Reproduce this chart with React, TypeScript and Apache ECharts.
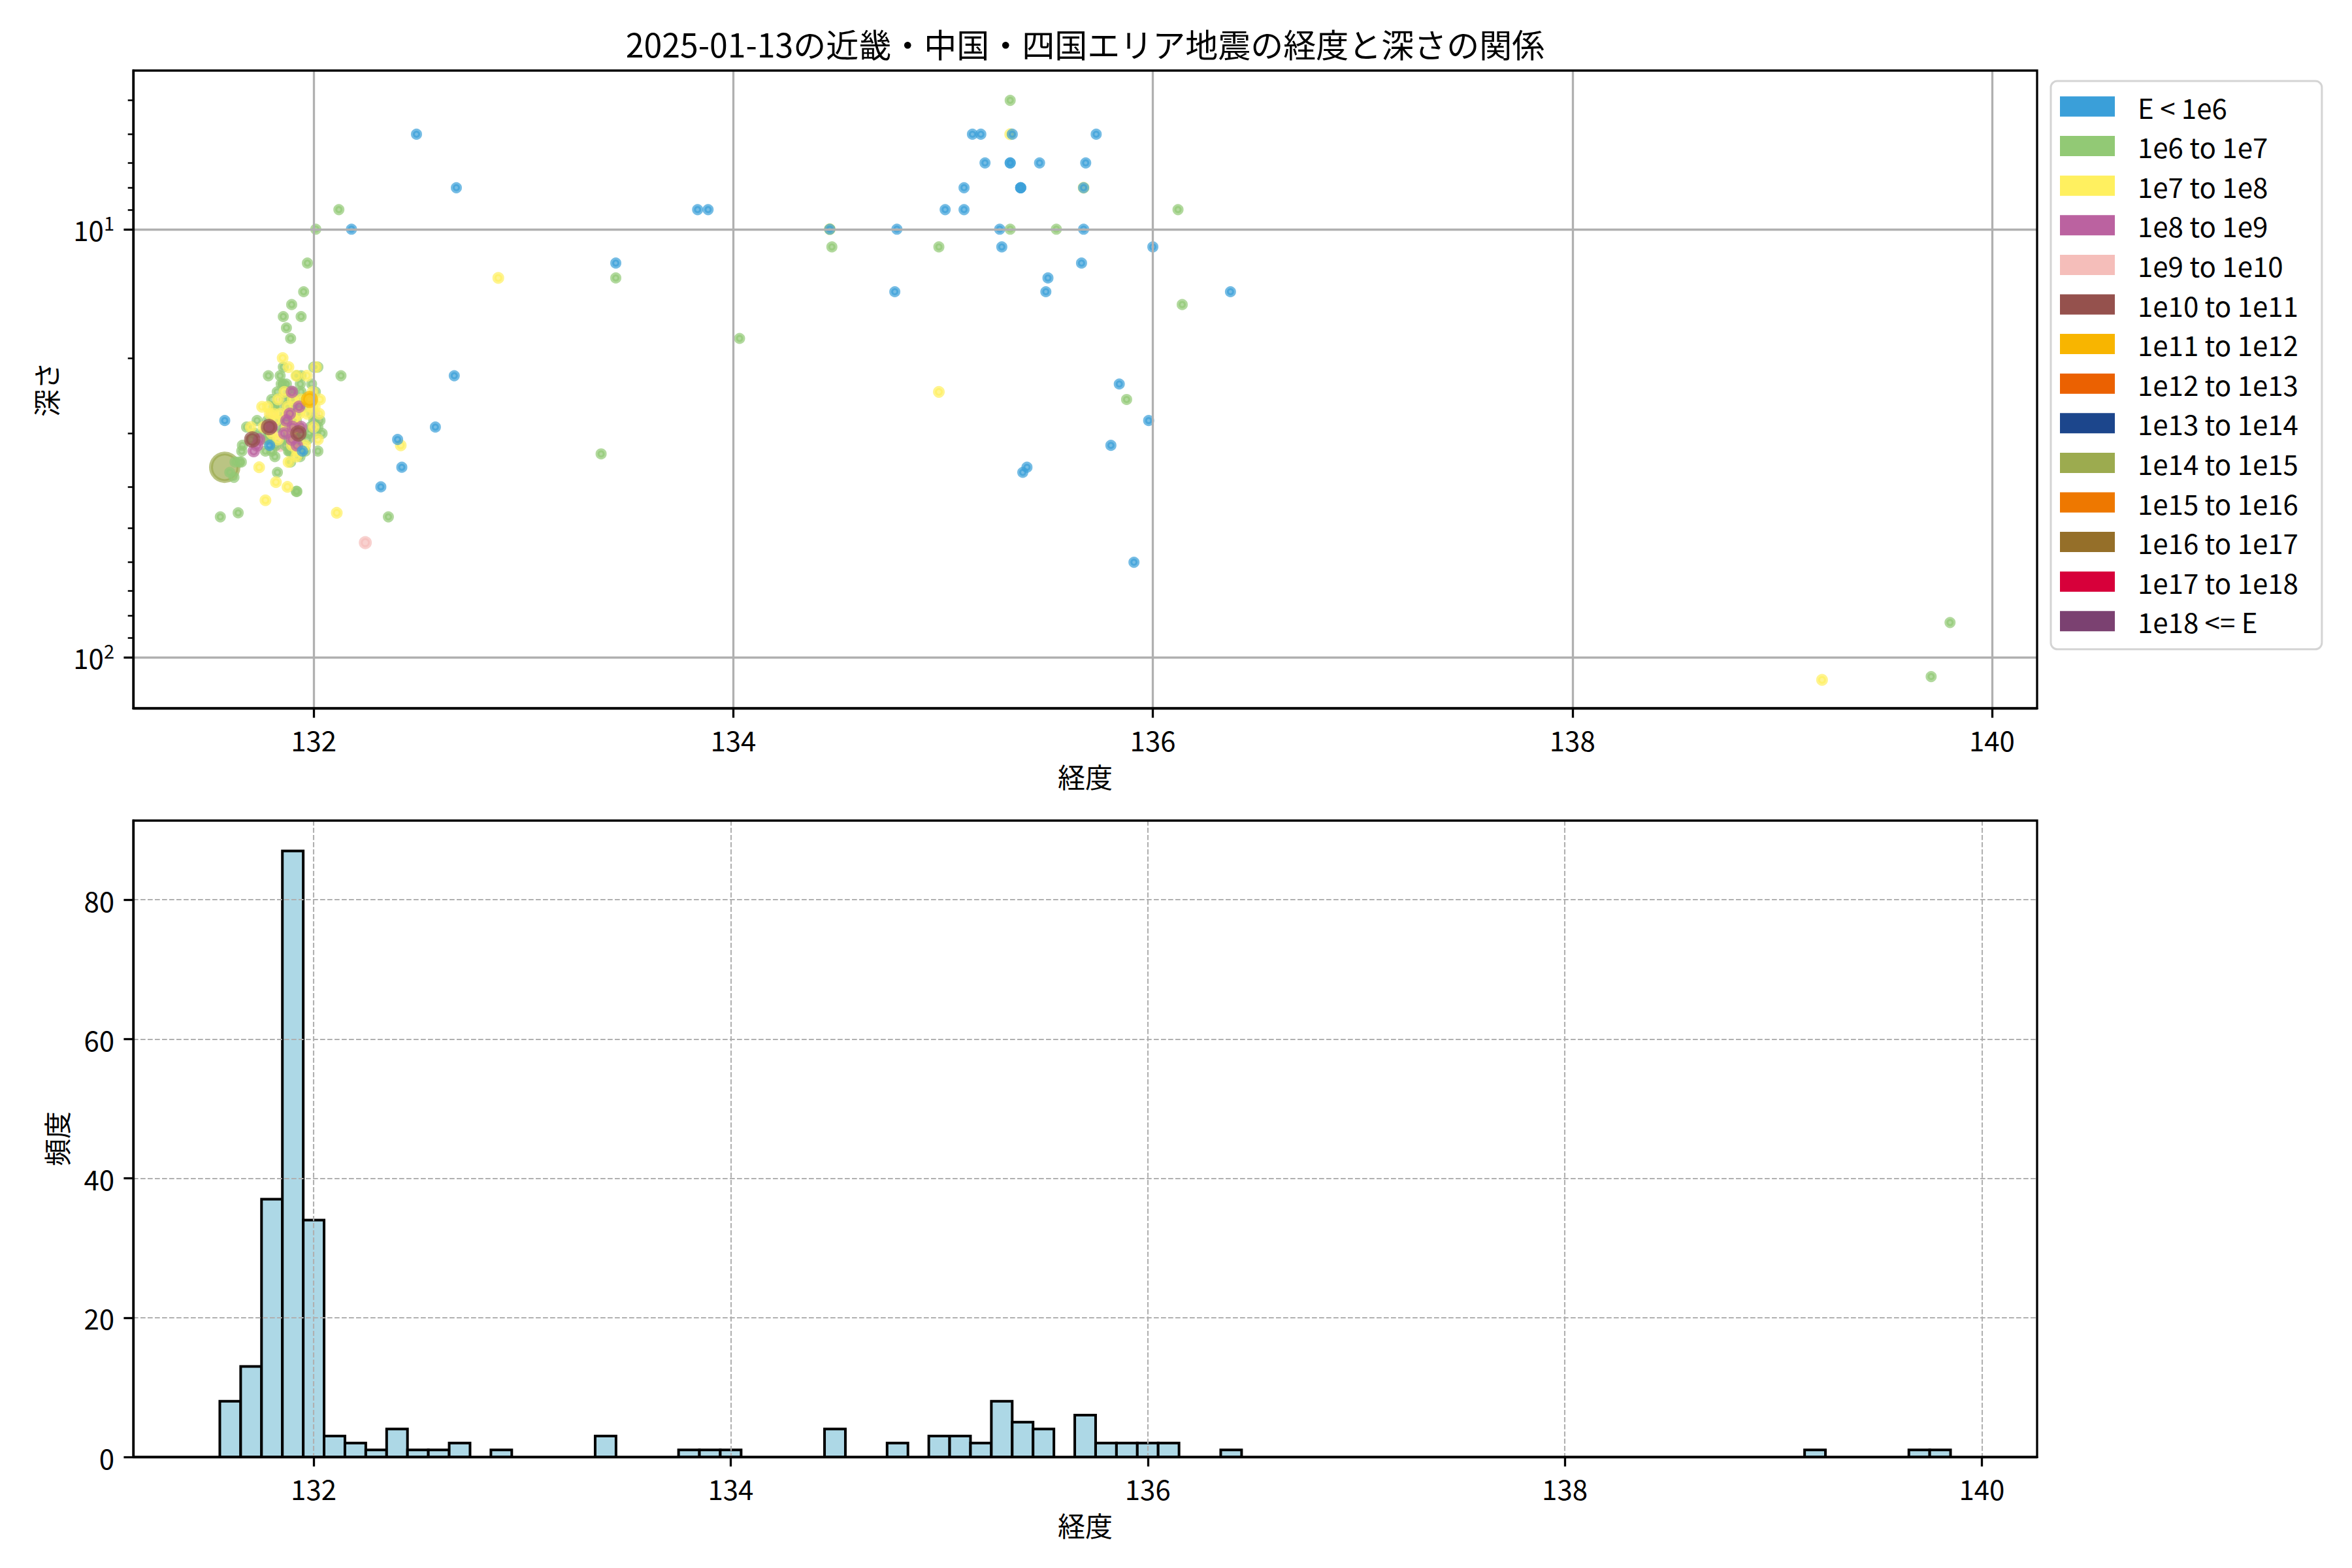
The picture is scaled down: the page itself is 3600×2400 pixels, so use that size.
import React, { useEffect, useRef } from 'react';
import * as echarts from 'echarts';

const FONT = '"Noto Sans CJK JP", "Noto Sans", sans-serif';

const TITLE = '2025-01-13の近畿・中国・四国エリア地震の経度と深さの関係';
const X_NAME = '経度';
const DEPTH_NAME = '深さ';
const COUNT_NAME = '頻度';

const categoryNames = [
  'E < 1e6', '1e6 to 1e7', '1e7 to 1e8', '1e8 to 1e9', '1e9 to 1e10', '1e10 to 1e11',
  '1e11 to 1e12', '1e12 to 1e13', '1e13 to 1e14', '1e14 to 1e15', '1e15 to 1e16',
  '1e16 to 1e17', '1e17 to 1e18', '1e18 <= E',
];
const categoryColors = [
  '#3a9fd9', '#92c975', '#fff05f', '#bb62a0', '#f5beba', '#95514d',
  '#f8b500', '#eb6101', '#1c468c', '#9cab4f', '#ee7800', '#956f29', '#d7003a', '#7b4171',
];
const categorySizes = [11, 11, 12, 13, 14, 19, 20, 22, 24, 42, 44, 46, 48, 50];
const categoryZ = [2.5, 2, 2, 2, 1.5, 2, 2, 2, 2, 1, 2, 2, 2, 2];

// [longitude, depth]
const pointsLt1e6 = [
  [135.14, 6], [135.18, 6], [135.33, 6], [135.73, 6],
  [135.20, 7], [135.32, 7], [135.32, 7], [135.46, 7], [135.68, 7],
  [135.10, 8], [135.37, 8], [135.37, 8], [135.37, 8], [135.67, 8],
  [133.83, 9], [133.88, 9], [135.01, 9], [135.10, 9],
  [134.46, 10], [134.78, 10], [135.27, 10], [135.67, 10],
  [135.28, 11], [136.0, 11], [133.44, 12], [135.66, 12], [135.50, 13],
  [134.77, 14], [135.49, 14], [136.37, 14],
  [135.84, 23], [135.98, 28], [135.80, 32], [135.40, 36], [135.38, 37], [135.91, 60],
  [132.49, 6], [132.68, 8], [132.18, 10], [132.67, 22], [132.58, 29], [132.40, 31],
  [132.42, 36], [132.32, 40], [131.576, 28], [131.79, 32], [131.946, 33],
];
const points1e6 = [
  [135.32, 5], [136.12, 9], [135.32, 10], [135.54, 10], [134.47, 11], [134.98, 11],
  [133.44, 13], [136.14, 15], [134.03, 18], [135.875, 25], [133.37, 33.5], [134.46, 10],
  [132.12, 9], [132.13, 22], [132.356, 47], [139.71, 111], [139.80, 83],
  [131.555, 47], [131.625, 35], [131.62, 38], [131.645, 35], [131.64, 46], [131.60, 37],
  [131.66, 32], [131.657, 33], [131.68, 29], [131.73, 28], [131.655, 35], [131.72, 30], [131.70, 31],
  [131.784, 22], [131.81, 26], [131.78, 28], [131.79, 31], [131.77, 33], [131.815, 34],
  [131.827, 37], [131.826, 24], [131.84, 22], [131.76, 30], [131.80, 25], [131.83, 29],
  [131.82, 32], [131.845, 23], [131.80, 33], [131.79, 29], [131.82, 26], [131.77, 31], [131.84, 28],
  [131.895, 15], [131.855, 16], [131.94, 16], [131.87, 17], [131.89, 18], [131.855, 21],
  [131.92, 22], [131.94, 22], [131.855, 23], [131.87, 23], [131.936, 23], [131.896, 24],
  [131.90, 24], [131.92, 25], [131.89, 25], [131.875, 26], [131.93, 26], [131.86, 27],
  [131.917, 28], [131.90, 28], [131.896, 29], [131.91, 29], [131.94, 30], [131.88, 30],
  [131.92, 31], [131.865, 32], [131.886, 33], [131.90, 33], [131.917, 41], [131.92, 41],
  [131.875, 29], [131.93, 32], [131.88, 28], [131.91, 27], [131.87, 31], [131.94, 24],
  [131.86, 25], [131.90, 30], [131.935, 34], [131.89, 35],
  [131.88, 24], [131.91, 26], [131.92, 27], [131.87, 26], [131.89, 27], [131.93, 29],
  [131.90, 32], [131.88, 33], [131.91, 31], [131.86, 28], [131.89, 28], [131.91, 30],
  [131.97, 12], [131.952, 14], [132.01, 10], [132.0, 21], [132.008, 24], [131.984, 29],
  [131.98, 30], [132.02, 33], [132.03, 28], [131.96, 26], [131.99, 27], [132.04, 30],
  [131.97, 31], [132.0, 28], [132.02, 21], [131.99, 23], [132.01, 30], [131.96, 33],
  [132.02, 29],
];
const points1e7 = [
  [132.11, 46], [132.415, 32], [132.88, 13], [134.46, 10], [134.98, 24], [135.32, 6],
  [135.67, 8], [139.19, 113],
  [131.70, 29], [131.74, 36],
  [131.754, 26], [131.79, 27], [131.81, 27], [131.82, 28], [131.82, 39], [131.77, 43],
  [131.80, 30], [131.78, 26], [131.84, 27], [131.83, 31], [131.83, 25], [131.76, 29],
  [131.852, 20], [131.88, 21], [131.917, 22], [131.917, 34], [131.875, 40], [131.896, 32],
  [131.875, 26], [131.87, 29], [131.91, 28], [131.86, 24], [131.93, 27], [131.89, 30],
  [131.94, 25], [131.90, 31], [131.92, 33], [131.88, 35], [131.90, 25], [131.92, 29], [131.88, 27],
  [132.01, 21], [131.967, 22], [131.995, 24], [131.98, 25], [132.005, 26], [131.97, 27],
  [132.026, 27], [132.0, 29], [132.02, 31], [131.96, 32], [131.99, 26], [132.03, 25],
];
const points1e8 = [
  [131.74, 31], [131.714, 33], [131.73, 32], [131.79, 29], [131.80, 29],
  [131.886, 27], [131.93, 26], [131.896, 31], [131.896, 24], [131.90, 29], [131.87, 28],
  [131.94, 29], [131.92, 32], [131.86, 30],
];
const points1e9 = [
  [132.246, 54], [131.80, 27], [131.83, 30], [131.84, 32],
  [131.852, 25], [131.865, 29], [131.875, 31], [131.90, 26],
  [132.0, 27], [132.01, 28],
];
const points1e10 = [[131.707, 31], [131.787, 29], [131.927, 30]];
const points1e11 = [[131.98, 25]];
const points1e12 = [];
const points1e13 = [];
const points1e14 = [[131.576, 36]];
const points1e15 = [];
const points1e16 = [];
const points1e17 = [];
const points1e18 = [];

const scatterData = [
  pointsLt1e6, points1e6, points1e7, points1e8, points1e9, points1e10, points1e11,
  points1e12, points1e13, points1e14, points1e15, points1e16, points1e17, points1e18,
];

// Histogram of longitude (bin edges start at HIST_BIN_START, width HIST_BIN_WIDTH)
const HIST_BIN_START = 131.55;
const HIST_BIN_WIDTH = 0.1;
const histCounts = [
  8, 13, 37, 87, 34, 3, 2, 1, 4, 1, 1, 2, 0, 1, 0, 0, 0, 0, 3, 0,
  0, 0, 1, 1, 1, 0, 0, 0, 0, 4, 0, 0, 2, 0, 3, 3, 2, 8, 5, 4,
  0, 6, 2, 2, 2, 2, 0, 0, 1, 0, 0, 0, 0, 0, 0, 0, 0, 0, 0, 0,
  0, 0, 0, 0, 0, 0, 0, 0, 0, 0, 0, 0, 0, 0, 0, 0, 1, 0, 0, 0,
  0, 1, 1,
];

const lonTicks = [132, 134, 136, 138, 140];
const depthTicks = [10, 100];
const depthMinorTicks = [5, 6, 7, 8, 9, 20, 30, 40, 50, 60, 70, 80, 90];
const countTicks = [0, 20, 40, 60, 80];

const SCATTER_X = [131.14, 140.215];
const SCATTER_Y = [4.26, 131.6];
const HIST_X = [131.135, 140.265];
const HIST_Y = [0, 91.35];

const G1 = { left: 204, top: 108, width: 2914, height: 976 };
const G2 = { left: 204, top: 1256, width: 2914, height: 974 };

export default function App() {
  const ref = useRef<HTMLDivElement>(null);

  useEffect(() => {
    document.body.style.margin = '0';
    if (!ref.current) return;
    const chart = echarts.init(ref.current, null, { renderer: 'svg' });

    const tickLine = { color: '#000', width: 3.3 };
    const labelStyle = { fontSize: 42, color: '#000', fontFamily: FONT };
    const nameStyle = { fontSize: 42, color: '#000', fontFamily: FONT };
    const solidGrid = { show: true, showMinLine: true, showMaxLine: true, lineStyle: { color: '#b0b0b0', width: 3.3 } };
    const dashGrid = {
      show: true, showMinLine: true, showMaxLine: true,
      lineStyle: { color: '#b0b0b0', width: 2.1, type: [7.7, 3.3] },
    };

    const histBars = histCounts
      .map((c, i) => [HIST_BIN_START + i * HIST_BIN_WIDTH, HIST_BIN_START + (i + 1) * HIST_BIN_WIDTH, c])
      .filter((d) => d[2] > 0);

    const scatterSeries = categoryNames.map((name, i) => ({
      name,
      type: 'scatter',
      xAxisIndex: 0,
      yAxisIndex: 0,
      data: scatterData[i],
      symbol: 'circle',
      symbolSize: categorySizes[i],
      z: categoryZ[i],
      itemStyle: {
        color: categoryColors[i],
        borderColor: categoryColors[i],
        borderWidth: 6,
        opacity: 0.7,
      },
      emphasis: { disabled: true },
    }));

    const option: any = {
      animation: false,
      backgroundColor: '#ffffff',
      textStyle: { fontFamily: FONT },
      graphic: [
        {
          type: 'text',
          x: G1.left + G1.width / 2,
          y: 66,
          style: {
            text: TITLE,
            fontSize: 50,
            fontFamily: FONT,
            fill: '#000',
            align: 'center',
            verticalAlign: 'middle',
          },
        },
      ],
      legend: {
        orient: 'vertical',
        left: 3139,
        top: 124,
        data: categoryNames,
        icon: 'rect',
        itemWidth: 84,
        itemHeight: 31,
        itemGap: 18.6,
        padding: [18, 36, 22, 14],
        borderColor: '#d4d4d4',
        borderWidth: 3,
        borderRadius: 10,
        backgroundColor: 'rgba(255,255,255,0.8)',
        selectedMode: false,
        itemStyle: { opacity: 1, borderWidth: 0 },
        textStyle: { fontSize: 42, color: '#000', fontFamily: FONT, lineHeight: 31, padding: [0, 0, 0, 30] },
      },
      grid: [
        { ...G1, show: true, borderColor: '#000', borderWidth: 3.3, z: 5, containLabel: false, outerBoundsMode: 'none' },
        { ...G2, show: true, borderColor: '#000', borderWidth: 3.3, z: 5, containLabel: false, outerBoundsMode: 'none' },
        { ...G1, show: false, containLabel: false, outerBoundsMode: 'none' },
      ],
      xAxis: [
        {
          gridIndex: 0,
          type: 'value',
          min: SCATTER_X[0],
          max: SCATTER_X[1],
          z: 3,
          name: X_NAME,
          nameLocation: 'middle',
          nameGap: 82,
          nameTextStyle: nameStyle,
          axisLine: { show: true, onZero: false, lineStyle: tickLine },
          axisTick: { show: true, customValues: lonTicks, length: 14.6, lineStyle: tickLine },
          axisLabel: { customValues: lonTicks, margin: 26, ...labelStyle },
          splitLine: solidGrid,
        },
        {
          gridIndex: 1,
          type: 'value',
          min: HIST_X[0],
          max: HIST_X[1],
          z: 3,
          name: X_NAME,
          nameLocation: 'middle',
          nameGap: 82,
          nameTextStyle: nameStyle,
          axisLine: { show: true, onZero: false, lineStyle: tickLine },
          axisTick: { show: true, customValues: lonTicks, length: 14.6, lineStyle: tickLine },
          axisLabel: { customValues: lonTicks, margin: 26, ...labelStyle },
          splitLine: dashGrid,
        },
        { gridIndex: 2, type: 'value', min: SCATTER_X[0], max: SCATTER_X[1], show: false },
      ],
      yAxis: [
        {
          gridIndex: 0,
          type: 'log',
          logBase: 10,
          min: SCATTER_Y[0],
          max: SCATTER_Y[1],
          inverse: true,
          z: 3,
          name: DEPTH_NAME,
          nameLocation: 'middle',
          nameGap: 114,
          nameRotate: 90,
          nameTextStyle: nameStyle,
          axisLine: { show: true, onZero: false, lineStyle: tickLine },
          axisTick: { show: true, customValues: depthTicks, length: 14.6, lineStyle: tickLine },
          axisLabel: {
            customValues: depthTicks,
            margin: 29,
            formatter: (v: number) => `{b|10}{s|${Math.round(Math.log10(v))}}`,
            rich: {
              b: { fontSize: 42, color: '#000', fontFamily: FONT, lineHeight: 50 },
              s: { fontSize: 29, color: '#000', fontFamily: FONT, verticalAlign: 'top', lineHeight: 30 },
            },
          },
          splitLine: solidGrid,
        },
        {
          gridIndex: 1,
          type: 'value',
          min: HIST_Y[0],
          max: HIST_Y[1],
          z: 3,
          name: COUNT_NAME,
          nameLocation: 'middle',
          nameGap: 98,
          nameRotate: 90,
          nameTextStyle: nameStyle,
          axisLine: { show: true, onZero: false, lineStyle: tickLine },
          axisTick: { show: true, customValues: countTicks, length: 14.6, lineStyle: tickLine },
          axisLabel: { customValues: countTicks, margin: 29, ...labelStyle },
          splitLine: dashGrid,
        },
        {
          gridIndex: 2,
          type: 'log',
          logBase: 10,
          min: SCATTER_Y[0],
          max: SCATTER_Y[1],
          inverse: true,
          z: 3,
          axisLine: { show: false },
          axisLabel: { show: false },
          splitLine: { show: false },
          axisTick: { show: true, customValues: depthMinorTicks, length: 8.3, lineStyle: { color: '#000', width: 2.5 } },
        },
      ],
      series: [
        ...scatterSeries,
        {
          type: 'custom',
          name: 'hist',
          xAxisIndex: 1,
          yAxisIndex: 1,
          data: histBars,
          encode: { x: [0, 1], y: 2 },
          z: 2,
          renderItem: (params: any, api: any) => {
            const p0 = api.coord([api.value(0), 0]);
            const p1 = api.coord([api.value(1), api.value(2)]);
            return {
              type: 'rect',
              shape: { x: p0[0], y: p1[1], width: p1[0] - p0[0], height: p0[1] - p1[1] },
              style: { fill: '#add8e6', stroke: '#000', lineWidth: 4 },
            };
          },
        },
      ],
    };

    chart.setOption(option);
    return () => chart.dispose();
  }, []);

  return <div ref={ref} style={{ width: 3600, height: 2400 }} />;
}
